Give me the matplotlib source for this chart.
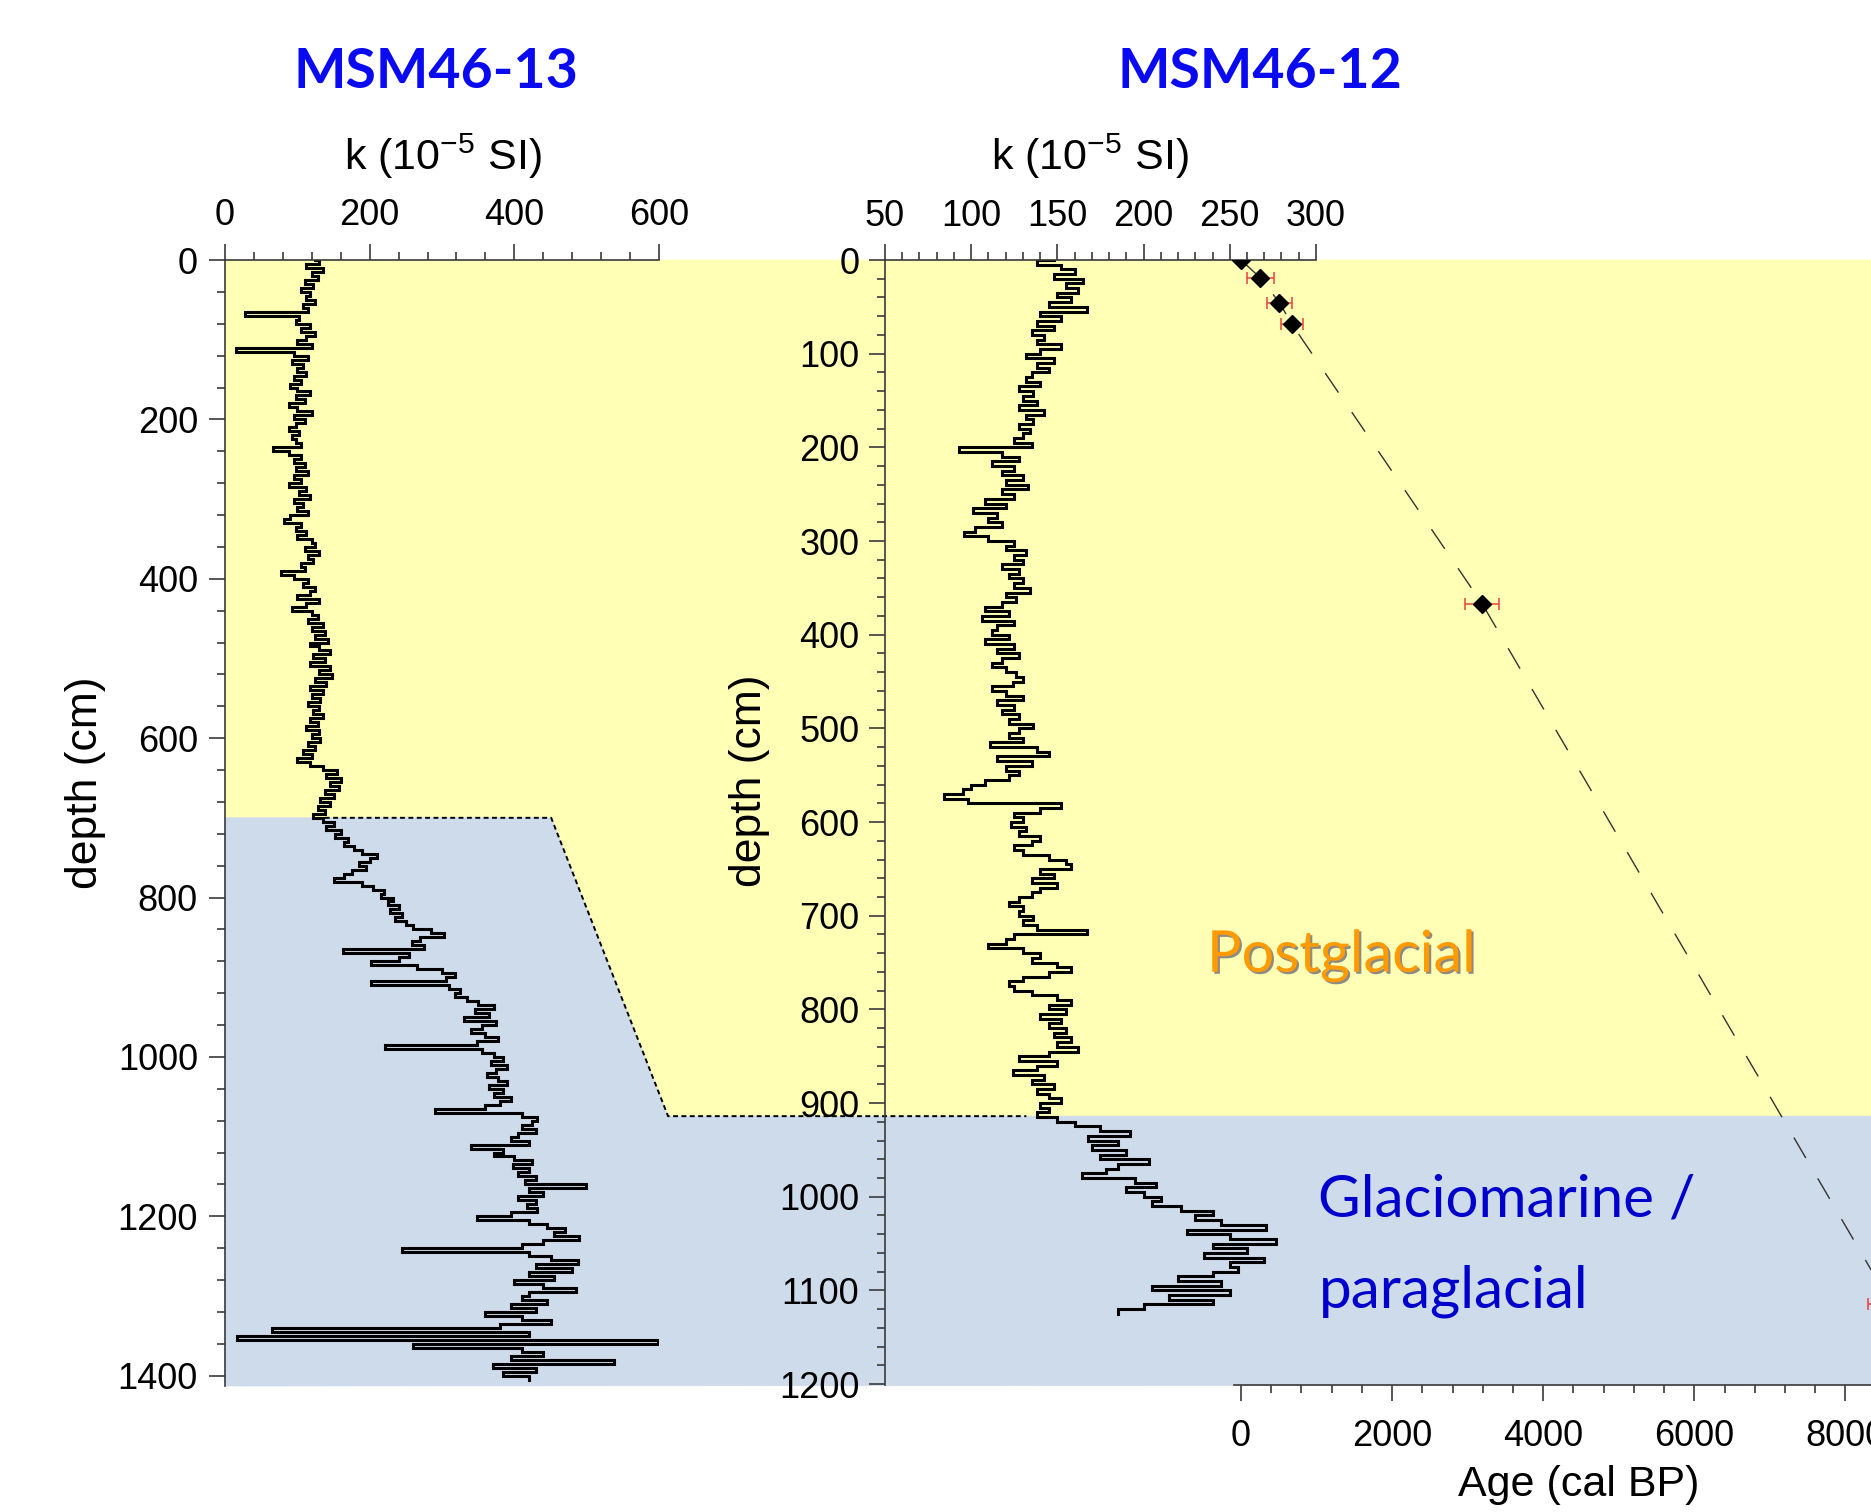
import numpy as np
import matplotlib
matplotlib.use('Agg')
import matplotlib.pyplot as plt
from matplotlib.patches import Polygon
from matplotlib.lines import Line2D
from matplotlib.transforms import blended_transform_factory
import matplotlib.patheffects as pe
from matplotlib.ticker import MultipleLocator

plt.rcParams['font.family'] = ['Liberation Sans', 'DejaVu Sans']
plt.rcParams['mathtext.default'] = 'regular'

# ---------------- data ----------------
# MSM46-13 magnetic susceptibility, sampled every 5 cm (0 ... 1405 cm)
core13_k = [
    125, 130, 112, 135, 120, 128, 110, 122, 105, 118,
    112, 125, 108, 115, 28, 102, 98, 118, 105, 125,
    112, 100, 120, 15, 95, 115, 92, 108, 100, 112,
    95, 105, 90, 100, 118, 98, 110, 88, 100, 120,
    95, 110, 98, 88, 102, 92, 98, 105, 67, 88,
    105, 95, 110, 98, 115, 95, 105, 88, 112, 102,
    118, 95, 108, 100, 115, 90, 82, 105, 98, 112,
    100, 120, 125, 110, 130, 115, 122, 105, 110, 78,
    95, 115, 108, 125, 118, 100, 130, 112, 92, 120,
    128, 115, 135, 120, 138, 125, 142, 118, 130, 145,
    122, 138, 118, 145, 130, 148, 125, 140, 118, 135,
    120, 132, 115, 130, 122, 135, 118, 128, 112, 130,
    120, 132, 115, 125, 108, 120, 100, 118, 135, 155,
    140, 160, 145, 158, 138, 150, 132, 145, 128, 138,
    122, 135, 150, 140, 160, 152, 170, 165, 178, 190,
    210, 200, 185, 195, 175, 165, 150, 190, 205, 220,
    215, 232, 225, 240, 228, 245, 235, 250, 260, 285,
    303, 270, 258, 275, 163, 255, 240, 202, 265, 300,
    318, 305, 202, 310, 325, 318, 335, 350, 372, 345,
    365, 330, 375, 355, 340, 360, 378, 348, 221, 355,
    372, 385, 368, 390, 375, 362, 378, 390, 365, 385,
    372, 395, 380, 360, 291, 410, 432, 425, 410, 430,
    405, 395, 420, 340, 385, 372, 400, 425, 398, 420,
    405, 430, 415, 499, 420, 440, 405, 430, 418, 432,
    395, 348, 420, 445, 470, 455, 490, 440, 410, 245,
    420, 450, 488, 430, 480, 420, 455, 400, 440, 485,
    420, 410, 445, 395, 430, 360, 410, 450, 380, 65,
    420, 17, 599, 260, 410, 440, 395, 538, 370, 430,
    385, 420,
]
core13_depth = np.arange(len(core13_k)) * 5

# MSM46-12 magnetic susceptibility, sampled every 5 cm (0 ... 1125 cm)
core12_k = [
    148, 138, 152, 160, 148, 165, 155, 162, 150, 158,
    145, 167, 140, 152, 138, 148, 135, 142, 138, 152,
    140, 132, 148, 138, 145, 135, 132, 140, 128, 136,
    130, 138, 128, 142, 132, 136, 128, 134, 130, 125,
    135, 93, 118, 128, 112, 125, 118, 130, 120, 133,
    118, 125, 108, 120, 101, 115, 110, 118, 102, 96,
    110, 125, 120, 132, 125, 130, 118, 128, 122, 130,
    125, 134, 120, 126, 118, 108, 122, 106, 125, 115,
    112, 122, 108, 125, 115, 128, 118, 112, 120, 126,
    130, 124, 112, 120, 130, 115, 125, 118, 128, 122,
    136, 128, 122, 130, 111, 138, 145, 115, 135, 120,
    128, 122, 108, 100, 95, 84, 98, 152, 140, 125,
    130, 123, 132, 128, 140, 135, 125, 130, 145, 155,
    158, 140, 148, 135, 150, 140, 135, 128, 122, 130,
    128, 136, 130, 138, 167, 125, 120, 110, 130, 140,
    135, 150, 158, 145, 130, 122, 125, 135, 150, 158,
    145, 155, 140, 152, 145, 155, 148, 158, 150, 162,
    145, 128, 150, 138, 124, 142, 135, 148, 138, 145,
    152, 140, 145, 138, 150, 160, 175, 192, 168, 185,
    170, 190, 175, 203, 185, 178, 164, 195, 207, 190,
    200, 210, 205, 222, 240, 230, 245, 271, 225, 250,
    277, 240, 260, 235, 270, 250, 255, 240, 220, 245,
    205, 250, 215, 240, 200, 185,
]
core12_depth = np.arange(len(core12_k)) * 5

# MSM46-12 age model
age_depth = [0, 19, 45.5, 68.7, 367, 1114]
age_cal_bp = [0, 256, 508, 676, 3192, 8600]
age_err = [0, 177, 170, 144, 225, 300]

# unit boundaries (depth, cm)
base_post_13 = 700
base_post_12 = 914

# ---------------- layout ----------------
W, H = 1871, 1512
fig = plt.figure(figsize=(W / 100, H / 100), dpi=100)


def rect(x0, y0, x1, y1):
    return [x0 / W, 1 - y1 / H, (x1 - x0) / W, (y1 - y0) / H]


ax1 = fig.add_axes(rect(225, 260, 659, 1386), facecolor='none')
ax2 = fig.add_axes(rect(885, 260, 1871, 1385), facecolor='none')
ax3 = fig.add_axes(rect(885, 260, 1871, 1385), facecolor='none', sharey=ax2)

ax1.set_xlim(0, 600)
ax1.set_ylim(1413, 0)
ax2.set_xlim(50, 622)
ax2.set_ylim(1201, 0)
ax3.set_xlim(-4711, 8338)

spine_c = '#3a3a3a'
tick_kw = dict(color=spine_c, width=1.2, labelcolor='black')
lbl_size = 26
curve_lw = 2.2

# --- left axes (MSM46-13)
for s in ('right', 'bottom'):
    ax1.spines[s].set_visible(False)
for s in ('top', 'left'):
    ax1.spines[s].set_color(spine_c)
    ax1.spines[s].set_linewidth(1.2)
ax1.xaxis.tick_top()
ax1.xaxis.set_major_locator(MultipleLocator(200))
ax1.xaxis.set_minor_locator(MultipleLocator(40))
ax1.yaxis.set_major_locator(MultipleLocator(200))
ax1.yaxis.set_minor_locator(MultipleLocator(40))
ax1.tick_params(which='major', length=11.5, labelsize=lbl_size, pad=8, **tick_kw)
ax1.tick_params(which='minor', length=5.8, **tick_kw)
ax1.tick_params(axis='x', which='both', top=True, bottom=False, labeltop=True, labelbottom=False)
ax1.plot(core13_k, core13_depth, color='black', lw=curve_lw, drawstyle='steps-post',
         solid_joinstyle='miter')

# --- right axes (MSM46-12)
for s in ('right', 'bottom'):
    ax2.spines[s].set_visible(False)
for s in ('top', 'left'):
    ax2.spines[s].set_color(spine_c)
    ax2.spines[s].set_linewidth(1.2)
ax2.spines['top'].set_bounds(50, 300)
ax2.xaxis.tick_top()
ax2.set_xticks([50, 100, 150, 200, 250, 300])
ax2.set_xticks(np.arange(50, 301, 10), minor=True)
ax2.yaxis.set_major_locator(MultipleLocator(100))
ax2.yaxis.set_minor_locator(MultipleLocator(20))
ax2.tick_params(which='major', length=11.5, labelsize=lbl_size, pad=7, **tick_kw)
ax2.tick_params(which='minor', length=5.8, **tick_kw)
ax2.tick_params(axis='x', which='both', top=True, bottom=False, labeltop=True, labelbottom=False)
ax2.plot(core12_k, core12_depth, color='black', lw=curve_lw, drawstyle='steps-post',
         solid_joinstyle='miter')

# --- age axes
for s in ('right', 'top', 'left'):
    ax3.spines[s].set_visible(False)
ax3.spines['bottom'].set_color(spine_c)
ax3.spines['bottom'].set_linewidth(1.2)
ax3.spines['bottom'].set_bounds(-93, 8338)
ax3.yaxis.set_visible(False)
ax3.set_xticks([0, 2000, 4000, 6000, 8000])
ax3.set_xticks(np.arange(0, 8338, 400), minor=True)
ax3.tick_params(which='major', length=11.5, labelsize=lbl_size, pad=13, **tick_kw)
ax3.tick_params(which='minor', length=5.8, **tick_kw)
ax3.tick_params(axis='x', which='both', top=False, bottom=True, labelbottom=True, labeltop=False)
ax3.plot(age_cal_bp, age_depth, color='#333333', lw=1.0, ls=(0, (17, 17)), zorder=1)
ax3.errorbar(age_cal_bp, age_depth, xerr=age_err, fmt='none', ecolor='#e8413c',
             elinewidth=1.1, capsize=4.3, capthick=1.1, zorder=2)
ax3.plot(age_cal_bp, age_depth, ls='none', marker='D', ms=9.5, color='black', zorder=3)

# ---------------- background units ----------------
to_fig = fig.transFigure.inverted()
blend = blended_transform_factory(ax1.transData, ax2.transData)


def fp(tr, x, y):
    return to_fig.transform(tr.transform((x, y)))


x2max = ax2.get_xlim()[1]
y2max = ax2.get_ylim()[0]
y1max = ax1.get_ylim()[0]
hinge_k13_top = 451
hinge_k13_bot = 612.5

A = fp(ax1.transData, 0, 0)
B = fp(ax2.transData, x2max, 0)
C = fp(ax2.transData, x2max, base_post_12)
D = fp(blend, hinge_k13_bot, base_post_12)
E = fp(ax1.transData, hinge_k13_top, base_post_13)
F = fp(ax1.transData, 0, base_post_13)
G = fp(ax2.transData, x2max, y2max)
Hh = fp(ax1.transData, 0, y1max)

yellow = '#FFFFB5'
blue = '#CEDBEA'
fig.add_artist(Polygon([A, B, C, D, E, F], closed=True, transform=fig.transFigure,
                       facecolor=yellow, edgecolor=yellow, lw=0.5, zorder=-2))
fig.add_artist(Polygon([F, E, D, C, G, Hh], closed=True, transform=fig.transFigure,
                       facecolor=blue, edgecolor=blue, lw=0.5, zorder=-2))

L0 = fp(ax1.transData, 138, base_post_13)
L3 = fp(ax2.transData, 132, base_post_12)
bx = [L0[0], E[0], D[0], L3[0]]
by = [L0[1], E[1], D[1], L3[1]]
fig.add_artist(Line2D(bx, by, transform=fig.transFigure, color='black', lw=1.4,
                      ls=(0, (2.5, 1.8)), zorder=-1))

# ---------------- texts ----------------
title_c = '#0A0AF0'
fig.text(436 / W, 1 - 88 / H, 'MSM46-13', fontfamily='Lato', fontweight='bold',
         fontsize=40, color=title_c, ha='center', va='baseline')
fig.text(1260 / W, 1 - 88 / H, 'MSM46-12', fontfamily='Lato', fontweight='bold',
         fontsize=40, color=title_c, ha='center', va='baseline')

fig.text(443 / W, 1 - 170 / H, 'k (10$^{-5}$ SI)', ha='center', va='baseline', fontsize=31)
fig.text(1090 / W, 1 - 170 / H, 'k (10$^{-5}$ SI)', ha='center', va='baseline', fontsize=31)

fig.text(86 / W, 1 - 783 / H, 'depth (cm)', rotation=90, ha='center', va='center', fontsize=32)
fig.text(749 / W, 1 - 781 / H, 'depth (cm)', rotation=90, ha='center', va='center', fontsize=32)

fig.text(1579 / W, 1 - 1485 / H, 'Age (cal BP)', ha='center', va='center', fontsize=31)

fig.text(1207 / W, 1 - 971.7 / H, 'Postglacial', fontfamily='Lato', fontsize=41.5,
         color='#FF9A00', ha='left', va='baseline',
         path_effects=[pe.withSimplePatchShadow(offset=(1.5, -1.5),
                                                shadow_rgbFace='#7f7f7f', alpha=0.9)])
fig.text(1318 / W, 1 - 1216.7 / H, 'Glaciomarine /', fontfamily='Lato', fontsize=42,
         color='#0000CC', ha='left', va='baseline')
fig.text(1319 / W, 1 - 1308 / H, 'paraglacial', fontfamily='Lato', fontsize=42,
         color='#0000CC', ha='left', va='baseline')

fig.savefig('out.png', dpi=100)
